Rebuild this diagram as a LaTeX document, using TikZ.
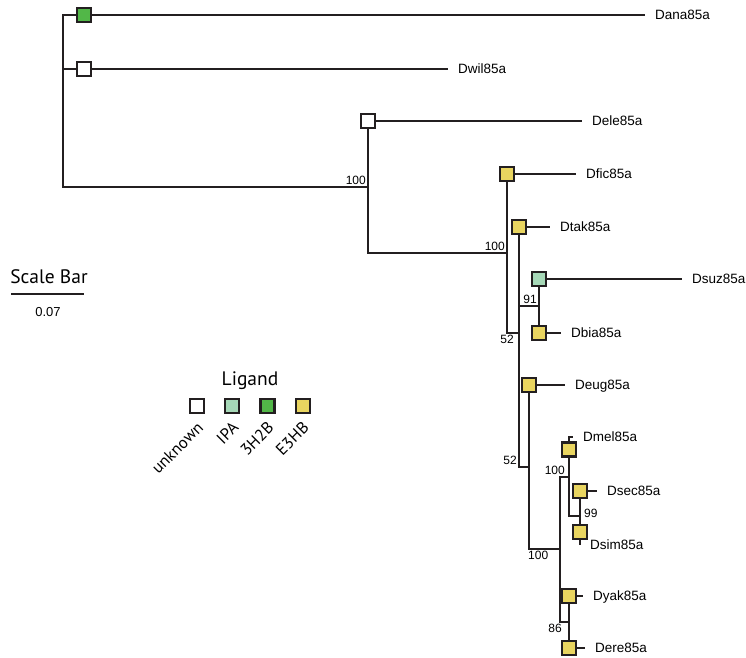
\documentclass[tikz,border=0pt]{standalone}
\usepackage{fontspec}
\setmainfont{Liberation Sans}
\newfontfamily\legfont{PT Sans}
\usetikzlibrary{positioning}

\definecolor{linie}{HTML}{231F20}
\definecolor{gruen}{HTML}{52B748}
\definecolor{hellgruen}{HTML}{A6D8B7}
\definecolor{gelb}{HTML}{E9D560}

\tikzset{
    ast/.style={draw=linie, line width=1.4pt},
    lig/.style={rectangle, draw=linie, line width=2.2pt, fill=white, minimum size=14pt, inner sep=0pt},
    art/.style={anchor=west, inner xsep=10pt, inner ysep=0pt, text height=9.6pt, text depth=0pt, font=\fontsize{13.5}{15}\selectfont},
    boot/.style={inner sep=2pt, font=\fontsize{12}{14}\selectfont},
    legtext/.style={rotate=45, anchor=north east, inner sep=1pt, font=\legfont\fontsize{16.5}{18}\selectfont}
}

\begin{document}
\begin{tikzpicture}[x=1pt, y=-1pt]
        \useasboundingbox (0,0) rectangle (746,657);

        % Kaestchen (Ligand je Art)
        \node[lig, fill=gruen] (dana) at (84,15) {};
        \node[lig] (dwil) at (84,69) {};
        \node[lig] (dele) at (368,121) {};
        \node[lig, fill=gelb] (dfic) at (507,174) {};
        \node[lig, fill=gelb] (dtak) at (519,227) {};
        \node[lig, fill=hellgruen] (dsuz) at (539,279) {};
        \node[lig, fill=gelb] (dbia) at (539,333) {};
        \node[lig, fill=gelb] (deug) at (529,385) {};
        \node[lig, fill=gelb] (dmel) at (569,449.5) {};
        \node[lig, fill=gelb] (dsec) at (580,491) {};
        \node[lig, fill=gelb] (dsim) at (580,532) {};
        \node[lig, fill=gelb] (dyak) at (569,596) {};
        \node[lig, fill=gelb] (dere) at (569,648) {};

        % Artnamen
        \node[art] (danal) at (645,15) {Dana85a};
        \node[art] (dwill) at (448,69) {Dwil85a};
        \node[art] (delel) at (582,121) {Dele85a};
        \node[art] (dficl) at (576,174) {Dfic85a};
        \node[art] (dtakl) at (550,227) {Dtak85a};
        \node[art] (dsuzl) at (682,279) {Dsuz85a};
        \node[art] (dbial) at (561,333) {Dbia85a};
        \node[art] (deugl) at (565,385) {Deug85a};
        \node[art] (dmell) at (573,437) {Dmel85a};
        \node[art] (dsecl) at (597,491) {Dsec85a};
        \node[art] (dsiml) at (580,545) {Dsim85a};
        \node[art] (dyakl) at (583,596) {Dyak85a};
        \node[art] (derel) at (585,648) {Dere85a};

        % Verzweigungspunkte
        \coordinate (wurzel) at (63,15);
        \coordinate (k1) at (368,187);
        \coordinate (k2) at (507,253);
        \coordinate (k3) at (519,333);
        \coordinate (k4) at (539,306);
        \coordinate (k5) at (529,467);
        \coordinate (k6) at (560,549);
        \coordinate (k7) at (569,477);
        \coordinate (k8) at (569,622);
        \coordinate (k9) at (580,516);

        % Endaeste
        \draw[ast] (dana) -- (danal.west);
        \draw[ast] (dwil) -- (dwill.west);
        \draw[ast] (dele) -- (delel.west);
        \draw[ast] (dfic) -- (dficl.west);
        \draw[ast] (dtak) -- (dtakl.west);
        \draw[ast] (dsuz) -- (dsuzl.west);
        \draw[ast] (dbia) -- (dbial.west);
        \draw[ast] (deug) -- (deugl.west);
        \draw[ast] (dmel) |- (dmell.west);
        \draw[ast] (dsec) -- (dsecl.west);
        \draw[ast] (dsim) |- (dsiml.west);
        \draw[ast] (dyak) -- (dyakl.west);
        \draw[ast] (dere) -- (derel.west);

        % innere Aeste
        \draw[ast] (dana) -- (wurzel) |- (k1);
        \draw[ast] (dwil) -- (dwil -| wurzel);
        \draw[ast] (dele) |- (k2);
        \draw[ast] (dfic) |- (k3);
        \draw[ast] (dtak) |- (k5);
        \draw[ast] (k4 -| k3) -- (k4);
        \draw[ast] (dsuz) -- (dbia);
        \draw[ast] (deug) |- (k6);
        \draw[ast] (k7) -- (k7 -| k6) |- (k8);
        \draw[ast] (dmel) |- (k9);
        \draw[ast] (dsec) -- (dsim);
        \draw[ast] (dyak) -- (dere);

        % Bootstrap-Werte
        \node[boot, anchor=south east] (b1) at (k1) {100};
        \node[boot, anchor=south east] (b2) at (k2) {100};
        \node[boot, anchor=north] (b3) at (k3 -| k2) {52};
        \node[boot, anchor=south east] (b4) at (k4) {91};
        \node[boot, anchor=south east] (b5) at (k5 -| k3) {52};
        \node[boot, anchor=north west, xshift=-3pt] (b6) at (k6 -| deug) {100};
        \node[boot, anchor=south east, xshift=-2pt] (b7) at (k7) {100};
        \node[boot, anchor=north, xshift=-5pt] (b8) at (k8 -| k6) {86};
        \node[boot, anchor=west, xshift=2pt, yshift=3pt] (b9) at (k9) {99};

        % Massstab
        \coordinate (sb1) at (11,294);
        \coordinate (sb2) at (84,294);
        \draw[ast] (sb1) -- (sb2);
        \node[anchor=base, font=\legfont\fontsize{19.5}{22}\selectfont] (sbtext) at (49,283) {Scale Bar};
        \node[anchor=base, font=\fontsize{13}{15}\selectfont] (sbwert) at (48,316.5) {0.07};

        % Legende
        \node[anchor=base, font=\legfont\fontsize{19.5}{22}\selectfont] (ligand) at (250,385) {Ligand};
        \node[lig] (lu) at (197,406) {};
        \node[lig, fill=hellgruen, right=19pt of lu] (lipa) {};
        \node[lig, fill=gruen, right=19pt of lipa] (lhzb) {};
        \node[lig, fill=gelb, right=19pt of lhzb] (lehb) {};
        \node[legtext] (tu) at ([xshift=-1pt, yshift=-5pt]lu.south) {unknown};
        \node[legtext] (tipa) at ([xshift=-1pt, yshift=-5pt]lipa.south) {IPA};
        \node[legtext] (thzb) at ([xshift=-1pt, yshift=-5pt]lhzb.south) {3H2B};
        \node[legtext] (tehb) at ([xshift=-1pt, yshift=-5pt]lehb.south) {E3HB};

    \end{tikzpicture}
\end{document}
